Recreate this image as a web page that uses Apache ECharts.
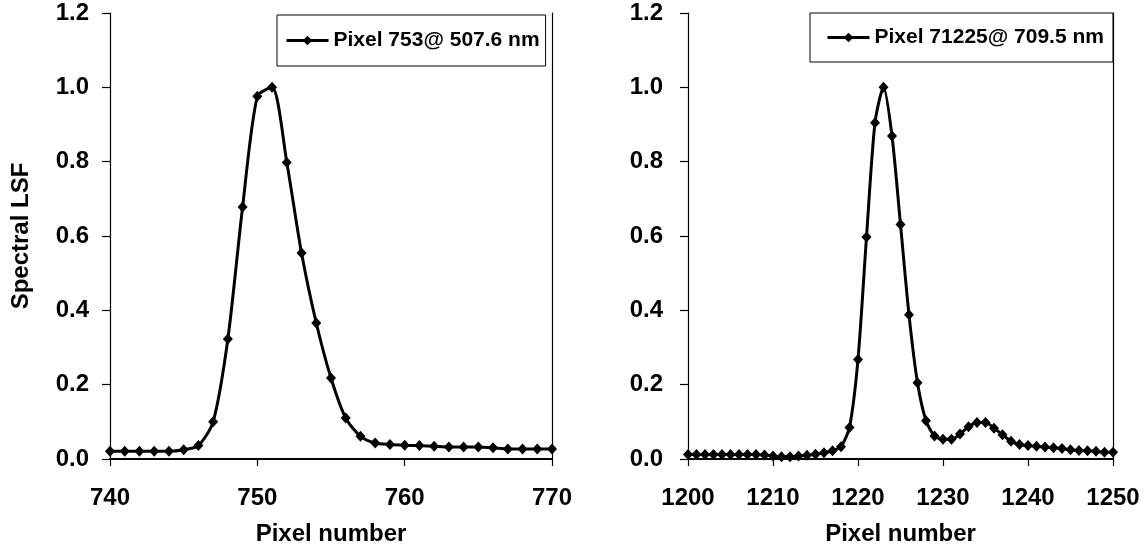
<!DOCTYPE html>
<html>
<head>
<meta charset="utf-8">
<script src="https://cdn.jsdelivr.net/npm/echarts@6/dist/echarts.min.js"></script>
<style>
html, body { margin: 0; padding: 0; background: #fff; }
#main { width: 1147px; height: 555px; }
</style>
</head>
<body>
<div id="main"></div>
<script>
// left panel: pixel 753 @ 507.6 nm
var leftPixels = [740, 741, 742, 743, 744, 745, 746, 747, 748, 749, 750, 751, 752, 753, 754, 755,
    756, 757, 758, 759, 760, 761, 762, 763, 764, 765, 766, 767, 768, 769, 770];
var leftLSF = [0.021, 0.021, 0.021, 0.021, 0.021, 0.025, 0.036, 0.10, 0.323, 0.678, 0.976, 1.0,
    0.798, 0.554, 0.366, 0.218, 0.11, 0.061, 0.043, 0.039, 0.037, 0.036, 0.034, 0.032, 0.032,
    0.032, 0.030, 0.027, 0.027, 0.027, 0.027];

// right panel: pixel 1225 @ 709.5 nm
var rightPixels = [1200, 1201, 1202, 1203, 1204, 1205, 1206, 1207, 1208, 1209, 1210, 1211, 1212,
    1213, 1214, 1215, 1216, 1217, 1218, 1219, 1220, 1221, 1222, 1223, 1224, 1225, 1226, 1227, 1228,
    1229, 1230, 1231, 1232, 1233, 1234, 1235, 1236, 1237, 1238, 1239, 1240, 1241, 1242, 1243, 1244,
    1245, 1246, 1247, 1248, 1249, 1250];
var rightLSF = [0.012, 0.012, 0.012, 0.012, 0.012, 0.012, 0.012, 0.012, 0.012, 0.011,
    0.008, 0.006, 0.006, 0.008, 0.010, 0.013, 0.017, 0.022, 0.033, 0.085,
    0.268, 0.597, 0.905, 1.0, 0.869, 0.631, 0.388, 0.205, 0.103, 0.062,
    0.053, 0.053, 0.067, 0.087, 0.098, 0.098, 0.083, 0.065, 0.048, 0.039,
    0.036, 0.034, 0.032, 0.030, 0.028, 0.025, 0.023, 0.022, 0.021, 0.018, 0.018];

var leftName = 'Pixel 753@ 507.6 nm';
var rightName = 'Pixel 71225@ 709.5 nm';
var yTicks = ['0.0', '0.2', '0.4', '0.6', '0.8', '1.0', '1.2'];

var FONT = '"Liberation Sans", Arial, sans-serif';

function pairs(xs, ys) {
    return xs.map(function (x, i) { return [x, ys[i]]; });
}

function xAxisFor(grid, min, max) {
    return {
        type: 'value', gridIndex: grid, min: min, max: max, interval: 10,
        name: 'Pixel number', nameLocation: 'middle', nameGap: 63,
        nameTextStyle: { fontFamily: FONT, fontWeight: 'bold', fontSize: 24, color: '#000' },
        axisLine: { show: true, onZero: false, lineStyle: { color: '#000', width: 2 } },
        axisTick: { show: true, inside: false, length: 7, lineStyle: { color: '#000', width: 1.2 } },
        axisLabel: {
            margin: 27, fontFamily: FONT, fontWeight: 'bold', fontSize: 24, color: '#000',
            formatter: function (v) { return String(v); }
        },
        splitLine: { show: false }
    };
}

function yAxisFor(grid, withName, margin) {
    return {
        type: 'value', gridIndex: grid, min: 0, max: 1.2, interval: 0.2,
        name: withName ? 'Spectral LSF' : '', nameLocation: 'middle', nameGap: 77,
        nameTextStyle: { fontFamily: FONT, fontWeight: 'bold', fontSize: 24, color: '#000' },
        axisLine: { show: true, lineStyle: { color: '#000', width: 1.2 } },
        axisTick: { show: true, inside: false, length: 8, lineStyle: { color: '#000', width: 1.2 } },
        axisLabel: {
            margin: margin, fontFamily: FONT, fontWeight: 'bold', fontSize: 24, color: '#000',
            formatter: function (v) { return yTicks[Math.round(v / 0.2)]; }
        },
        splitLine: { show: false }
    };
}

function frameAxis(grid) {
    return {
        type: 'value', gridIndex: grid, position: 'right', min: 0, max: 1.2,
        axisLine: { show: true, lineStyle: { color: '#000', width: 1.2 } },
        axisTick: { show: false }, axisLabel: { show: false }, splitLine: { show: false }
    };
}

function legendFor(name, left, top, padding) {
    return {
        data: [name], left: left, top: top, orient: 'horizontal',
        padding: padding, itemWidth: 42, itemHeight: 12, itemGap: 0,
        borderColor: '#000', borderWidth: 1, backgroundColor: '#fff',
        lineStyle: { width: 3, color: '#000' },
        textStyle: { fontFamily: FONT, fontWeight: 'bold', fontSize: 21, color: '#000' }
    };
}

function lineSeries(name, xi, yi, data) {
    return {
        name: name, type: 'line', xAxisIndex: xi, yAxisIndex: yi, data: data,
        smooth: 0.25, symbol: 'diamond', symbolSize: [10, 11], showAllSymbol: true,
        lineStyle: { color: '#000', width: 3 },
        itemStyle: { color: '#000' },
        emphasis: { disabled: true }
    };
}

var myChart = echarts.init(document.getElementById('main'));
var option = {
    animation: false,
    backgroundColor: '#fff',
    legend: [
        legendFor(leftName, 277, 15, [15, 6, 15, 8]),
        legendFor(rightName, 810, 13, [14, 9, 14, 16])
    ],
    grid: [
        { left: 110, right: 595, top: 13, bottom: 96 },
        { left: 688, right: 34, top: 13, bottom: 96 }
    ],
    xAxis: [xAxisFor(0, 740, 770), xAxisFor(1, 1200, 1250)],
    yAxis: [yAxisFor(0, true, 21), frameAxis(0), yAxisFor(1, false, 25), frameAxis(1)],
    series: [
        lineSeries(leftName, 0, 0, pairs(leftPixels, leftLSF)),
        lineSeries(rightName, 1, 2, pairs(rightPixels, rightLSF))
    ]
};
myChart.setOption(option);
window.addEventListener('resize', function () {
    myChart.resize();
});
</script>
</body>
</html>
